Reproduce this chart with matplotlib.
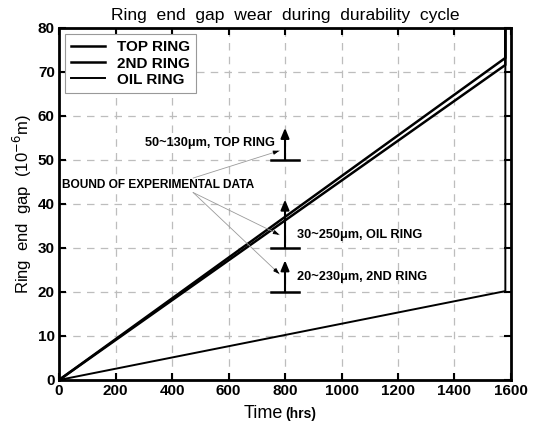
import matplotlib
matplotlib.use("Agg")
import matplotlib.pyplot as plt

plt.rcParams["font.family"] = ["Liberation Sans", "DejaVu Sans"]

# data
t_end = 1580
top_ring = [0, 73.2, 500]
second_ring = [0, 71.6, 500]
oil_ring = [0, 20.2, 500]
time = [0, t_end, t_end]

bound_time = 800
bound_low = [50, 30, 20]
bound_high = [57.3, 41.0, 27.2]
bound_labels = ["50~130\u03bcm, TOP RING", "30~250\u03bcm, OIL RING", "20~230\u03bcm, 2ND RING"]
pointer_y = [52.1, 33.0, 24.1]

fig = plt.figure(figsize=(5.38, 4.21), dpi=100)
ax = fig.add_axes([0.1097, 0.0974, 0.8401, 0.8361])

ax.plot(time, top_ring, color="black", lw=1.8, label="TOP RING")
ax.plot(time, second_ring, color="black", lw=1.8, label="2ND RING")
ax.plot(time, oil_ring, color="black", lw=1.4, label="OIL RING")

# bounds of experimental data
for lo, hi in zip(bound_low, bound_high):
    ax.plot([bound_time - 50, bound_time + 50], [lo, lo], color="black", lw=1.8)
    ax.annotate("", xy=(bound_time, hi), xytext=(bound_time, lo),
                arrowprops=dict(arrowstyle="-|>,head_width=0.25,head_length=0.6",
                                color="black", lw=1.5, shrinkA=0, shrinkB=0))

ax.text(765, 53.9, bound_labels[0], ha="right", va="center", fontsize=9.2, fontweight="bold")
ax.text(842, 33.0, bound_labels[1], ha="left", va="center", fontsize=9.2, fontweight="bold")
ax.text(842, 23.4, bound_labels[2], ha="left", va="center", fontsize=9.2, fontweight="bold")
ax.text(12, 44.3, "BOUND OF EXPERIMENTAL DATA", ha="left", va="center",
        fontsize=8.6, fontweight="bold")

# thin grey pointer lines with small black heads
starts = [(475, 45.9), (475, 42.6), (475, 42.6)]
for (sx, sy), py in zip(starts, pointer_y):
    ax.plot([sx, 780], [sy, py], color="#9a9a9a", lw=0.6)
    fx = 780 - (780 - sx) * 0.06
    fy = py - (py - sy) * 0.06
    ax.annotate("", xy=(780, py), xytext=(fx, fy),
                arrowprops=dict(arrowstyle="-|>,head_width=0.12,head_length=0.35",
                                color="black", lw=0.6, shrinkA=0, shrinkB=0))

ax.set_xlim(0, 1600)
ax.set_ylim(0, 80)
ax.set_xticks(range(0, 1601, 200))
ax.set_yticks(range(0, 81, 10))
ax.grid(True, color="#bdbdbd", linestyle=(0, (6, 5)), lw=0.9)
ax.tick_params(direction="in", top=True, right=True, length=5, width=1.5,
               labelsize=11, pad=3)
for lbl in ax.get_xticklabels() + ax.get_yticklabels():
    lbl.set_fontweight("bold")
for s in ax.spines.values():
    s.set_linewidth(2)

ax.set_title("Ring  end  gap  wear  during  durability  cycle", fontsize=12.6, pad=6)
ax.set_ylabel("Ring  end  gap  (10$^{-6}$m)", fontsize=12, labelpad=3)
fig.text(283 / 538, 1 - 413 / 421, "Time", ha="right", va="center", fontsize=13)
fig.text(285 / 538, 1 - 414 / 421, "(hrs)", ha="left", va="center", fontsize=10,
         fontweight="bold")

leg = ax.legend(loc="upper left", prop={"weight": "bold", "size": 11},
                fancybox=False, edgecolor="#999999", framealpha=1,
                handlelength=2.2, borderaxespad=0.4, labelspacing=0.15)
leg.get_frame().set_linewidth(0.8)

fig.savefig("out.png", dpi=100)
